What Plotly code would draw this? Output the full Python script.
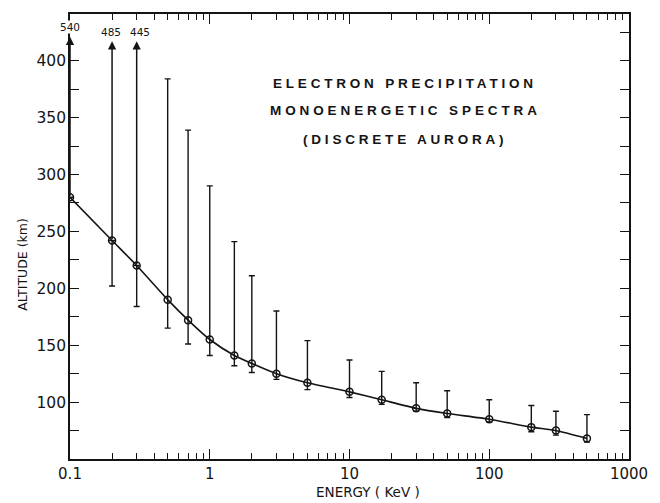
import numpy as np
import plotly.graph_objects as go

# ---- data ----
energy = [0.1, 0.2, 0.3, 0.5, 0.7, 1, 1.5, 2, 3, 5, 10, 17, 30, 50, 100, 200, 300, 500]
altitude = [280, 242, 220, 190, 172, 155, 141, 134, 125, 117, 109, 102, 94.5, 90, 85, 78, 75, 68]
alt_upper = [None, None, None, 384, 339, 290, 241, 211, 180, 154, 137, 127, 117, 110, 102, 97, 92, 89]
alt_lower = [280, 202, 184, 165, 151, 141, 132, 126, 120, 111, 104, 98, 92, 86.5, 82.5, 74, 71, 65]

# off-scale upper limits, drawn as arrows with labels
arrow_energy = [0.1, 0.2, 0.3]
arrow_label = ["540", "485", "445"]
arrow_top = [421, 417, 417]

y_tickvals = [100, 150, 200, 250, 300, 350, 400]
x_tickvals = [0.1, 1, 10, 100, 1000]
x_ticktext = ["0.1", "1", "10", "100", "1000"]

title_lines = ["ELECTRON PRECIPITATION", "MONOENERGETIC SPECTRA", "(DISCRETE AURORA)"]

ink = "#141414"

# plot-area geometry (pixels) used to place free text
L, R, T, B = 70, 632, 13, 459


def px(x):
    return (x - L) / (R - L)


def py(y):
    return (B - y) / (B - T)


err_plus = [0 if u is None else u - a for u, a in zip(alt_upper, altitude)]
err_minus = [a - l for a, l in zip(altitude, alt_lower)]

fig = go.Figure()
fig.add_trace(go.Scatter(
    x=energy, y=altitude, mode="lines+markers",
    line=dict(color=ink, width=1.6, shape="spline", smoothing=0.6),
    marker=dict(symbol="circle-open", size=7, color=ink, line=dict(width=1.5, color=ink)),
    error_y=dict(type="data", symmetric=False, array=err_plus, arrayminus=err_minus,
                 color=ink, thickness=1.4, width=3),
    showlegend=False,
))

annotations = []
label_shift = [0, -1, 3]
for e, lab, top, a, sh in zip(arrow_energy, arrow_label, arrow_top, altitude, label_shift):
    lx = np.log10(e)
    annotations.append(dict(
        x=lx, y=top, ax=lx, ay=a, xref="x", yref="y", axref="x", ayref="y",
        text="", showarrow=True, arrowhead=2, arrowsize=1.1, arrowwidth=1.5,
        arrowcolor=ink, standoff=0, startstandoff=0,
    ))
    annotations.append(dict(
        x=lx, y=top + 2, xref="x", yref="y", text=lab, showarrow=False,
        yanchor="bottom", xanchor="center", xshift=sh, bgcolor="white", borderpad=0,
        font=dict(family="DejaVu Sans", size=10.5, color=ink),
    ))

title_y = [83, 110, 139]
title_spacing = [3.8, 3.9, 3.8]
for t, yy, sp in zip(title_lines, title_y, title_spacing):
    annotations.append(dict(
        x=px(407), y=py(yy), xref="paper", yref="paper",
        text='<span style="letter-spacing:%.1fpx">%s</span>' % (sp, t),
        showarrow=False, xanchor="center", yanchor="middle",
        font=dict(family="Liberation Sans", size=13.5, color=ink, weight="bold"),
    ))

annotations.append(dict(
    x=px(22), y=py(264), xref="paper", yref="paper", text="ALTITUDE (km)", textangle=-90,
    showarrow=False, xanchor="center", yanchor="middle",
    font=dict(family="DejaVu Sans", size=12.5, color=ink),
))
annotations.append(dict(
    x=px(370), y=py(492), xref="paper", yref="paper", text="ENERGY ( KeV )",
    xanchor="center", yanchor="middle",
    showarrow=False, font=dict(family="DejaVu Sans", size=13.5, color=ink),
))

minor_x = [m * 10 ** d for d in range(-1, 3) for m in range(2, 10)]

fig.update_layout(
    width=660, height=503,
    margin=dict(l=L, r=660 - R, t=T, b=503 - B),
    paper_bgcolor="white", plot_bgcolor="white",
    annotations=annotations,
    xaxis=dict(
        type="log", range=[-1, 3], tickmode="array", tickvals=x_tickvals, ticktext=x_ticktext,
        ticks="inside", ticklen=10, tickwidth=1.4, tickcolor=ink,
        showline=True, linecolor=ink, linewidth=1.6, mirror="allticks",
        showgrid=False, zeroline=False,
        tickfont=dict(family="DejaVu Sans", size=15, color=ink),
        minor=dict(tickmode="array", tickvals=minor_x, ticks="inside", ticklen=6,
                   tickwidth=1, tickcolor=ink, showgrid=False),
    ),
    yaxis=dict(
        range=[50, 441], tickmode="array", tickvals=y_tickvals,
        ticks="inside", ticklen=9, tickwidth=1.4, tickcolor=ink,
        showline=True, linecolor=ink, linewidth=1.6, mirror="allticks",
        showgrid=False, zeroline=False, ticklabelstandoff=-1,
        tickfont=dict(family="DejaVu Sans", size=15.5, color=ink),
        minor=dict(dtick=25, tick0=75, ticks="inside", ticklen=9, tickwidth=1,
                   tickcolor=ink, showgrid=False),
    ),
)

fig.write_html("out.html")
